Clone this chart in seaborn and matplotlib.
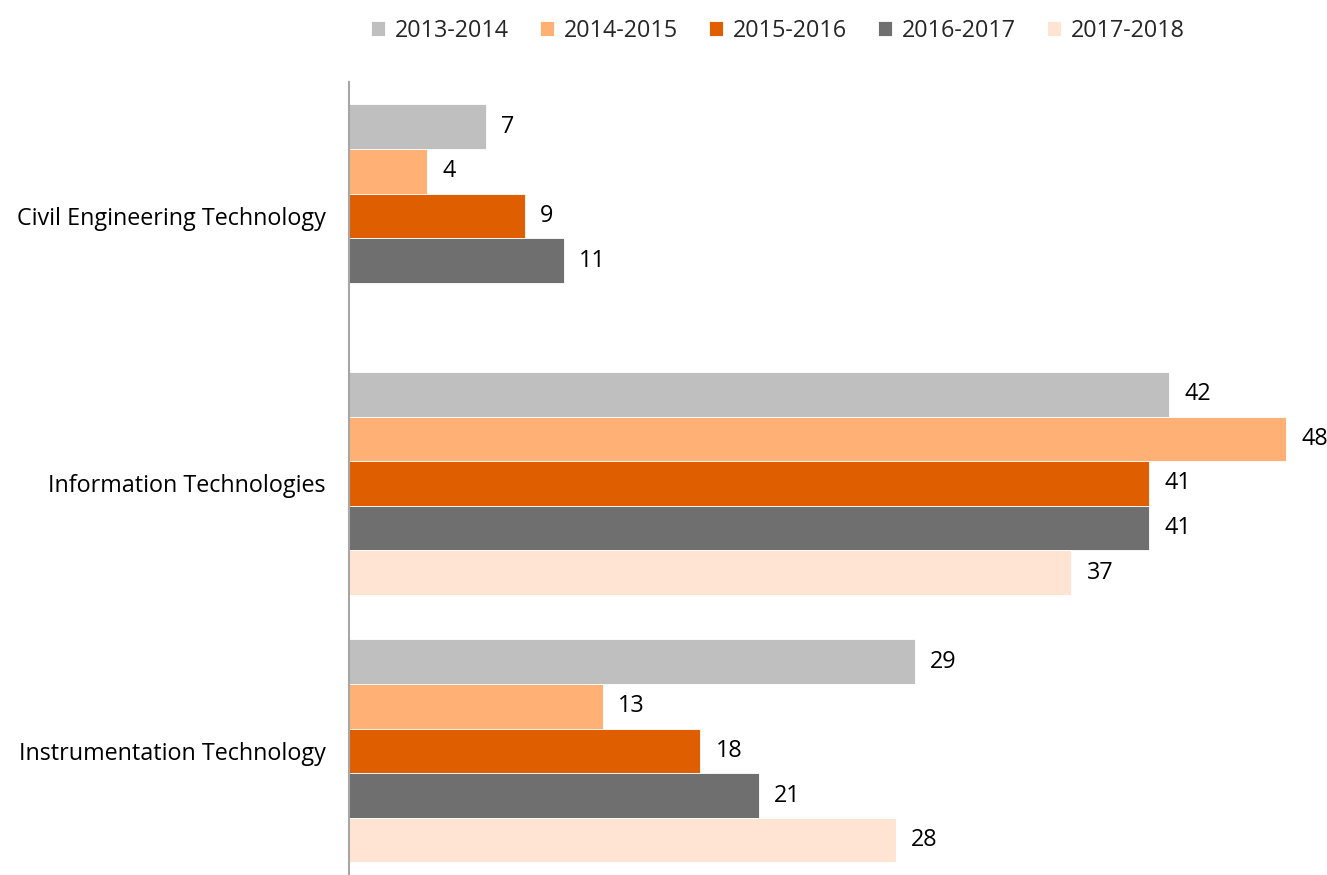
import numpy as np
import pandas as pd
import matplotlib
matplotlib.use("Agg")
import matplotlib.pyplot as plt
import seaborn as sns

categories = ["Civil Engineering Technology", "Information Technologies", "Instrumentation Technology"]
series = ["2013-2014", "2014-2015", "2015-2016", "2016-2017", "2017-2018"]
v2013_2014 = [7, 42, 29]
v2014_2015 = [4, 48, 13]
v2015_2016 = [9, 41, 18]
v2016_2017 = [11, 41, 21]
v2017_2018 = [np.nan, 37, 28]
colors = ["#BFBFBF", "#FFB074", "#DE5E00", "#6F6F6F", "#FFE4D4"]

values = [v2013_2014, v2014_2015, v2015_2016, v2016_2017, v2017_2018]
rows = []
for s, vals in zip(series, values):
    for c, v in zip(categories, vals):
        rows.append({"category": c, "season": s, "value": v})
df = pd.DataFrame(rows)

sns.set_theme(style="white")
plt.rcParams["font.family"] = ["Open Sans", "DejaVu Sans"]
FS = 16.8

fig = plt.figure(figsize=(13.27, 8.75), dpi=100)
ax = fig.add_axes([349 / 1327, 0.0, 976 / 1327, 793 / 875])

sns.barplot(data=df, x="value", y="category", hue="season", order=categories,
            hue_order=series, palette=colors, saturation=1, orient="h", width=0.834, gap=0,
            edgecolor="white", linewidth=0.6, ax=ax, legend=True)

for cont in ax.containers:
    labels = ["" if np.isnan(w) else f"{w:.0f}" for w in cont.datavalues]
    texts = ax.bar_label(cont, labels=labels, padding=11, fontsize=FS, color="#000000",
                         clip_on=False)

ax.set_xlim(0, 50)
ax.set_ylim(2.464, -0.501)
ax.set_xlabel("")
ax.set_ylabel("")
ax.set_xticks([])
ax.tick_params(axis="y", length=0, pad=17, labelsize=FS, labelcolor="#000000")
for side in ["top", "right", "bottom"]:
    ax.spines[side].set_visible(False)
ax.spines["left"].set_color("#A6A6A6")
ax.spines["left"].set_linewidth(1.5)

handles, labels = ax.get_legend_handles_labels()
ax.get_legend().remove()
fig.legend(handles, labels, loc="center", bbox_to_anchor=(778 / 1327, 1 - 31 / 875),
           ncol=5, frameon=False, fontsize=FS, handlelength=0.6, handleheight=0.6,
           handletextpad=0.43, columnspacing=1.33)

fig.savefig("out.png", dpi=100)
